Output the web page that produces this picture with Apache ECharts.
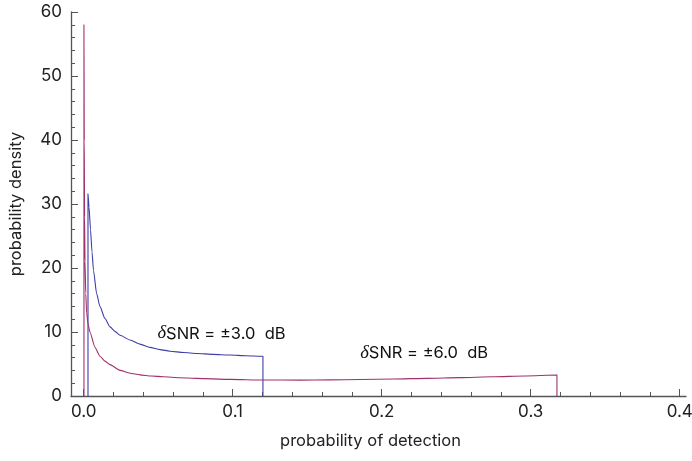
<!DOCTYPE html>
<html><head><meta charset="utf-8">
<script src="https://cdn.jsdelivr.net/npm/echarts@6/dist/echarts.min.js"></script>
<style>html,body{margin:0;padding:0;background:#fff}#c{width:692px;height:461px}</style>
</head><body><div id="c"></div>
<script>
// x tick values (probability of detection)
const xMajorTicks = [0, 0.1, 0.2, 0.3, 0.4];
const xMinorTicks = [0.02, 0.04, 0.06, 0.08, 0.12, 0.14, 0.16, 0.18, 0.22, 0.24, 0.26, 0.28, 0.32, 0.34, 0.36, 0.38];
const yTickInterval = 10;

// δSNR = ±3.0 dB curve: [probability of detection, probability density]
const snr3 = [
  [0.0029, 0], [0.0029, 31.6], [0.0036, 29.5], [0.0046, 26], [0.0056, 22.5], [0.0066, 19.6],
  [0.0087, 16], [0.0109, 14], [0.0143, 12.1], [0.0177, 10.8], [0.0210, 10.1], [0.0244, 9.5],
  [0.0311, 8.75], [0.0378, 8.1], [0.0445, 7.6], [0.0512, 7.25], [0.0579, 7.0], [0.0670, 6.8],
  [0.0760, 6.65], [0.0870, 6.5], [0.0982, 6.4], [0.1090, 6.3], [0.1203, 6.2], [0.1203, 0]
];

// δSNR = ±6.0 dB curve
const snr6 = [
  [0.0002, 0], [0.0002, 58], [0.0004, 40], [0.0006, 28], [0.0009, 21], [0.0014, 16],
  [0.0020, 13], [0.0029, 11.3], [0.0042, 10], [0.0076, 7.6], [0.0109, 6.2], [0.0143, 5.45],
  [0.0177, 4.9], [0.0244, 4.0], [0.0311, 3.55], [0.0378, 3.3], [0.0455, 3.12], [0.0532, 3.0],
  [0.0646, 2.86], [0.0760, 2.76], [0.0982, 2.6], [0.1203, 2.5], [0.1451, 2.48], [0.1650, 2.52],
  [0.1854, 2.58], [0.2080, 2.66], [0.2304, 2.76], [0.2525, 2.87], [0.2747, 3.0], [0.2960, 3.13],
  [0.3176, 3.28], [0.3176, 0]
];

// curve labels: [x, y, text]
const curveLabels = [
  [0.0925, 9.75, '{d|δ}SNR = ±3.0  dB'],
  [0.2285, 6.70, '{d|δ}SNR = ±6.0  dB']
];

const axisColor = '#555';
const textColor = '#222';
const font = 'Inter, "Liberation Sans", sans-serif';

const chart = echarts.init(document.getElementById('c'), null, {renderer: 'canvas'});

function labelSeries(idx) {
  const L = curveLabels[idx];
  return {
    data: [{coord: [L[0], L[1]], value: L[2]}],
    symbol: 'circle', symbolSize: 0,
    label: {
      show: true, position: 'inside', formatter: L[2],
      color: '#111', fontFamily: font, fontSize: 16.5,
      rich: { d: { fontFamily: '"Liberation Serif", serif', fontStyle: 'italic', fontSize: 18.5, color: '#111' } }
    },
    itemStyle: {color: 'transparent'}
  };
}

chart.setOption({
  animation: false,
  backgroundColor: '#fff',
  grid: { left: 71, right: 6, top: 12, bottom: 65, containLabel: false, outerBoundsMode: 'none' },
  xAxis: [
    {
      type: 'value', min: -0.0085, max: 0.4042, position: 'bottom',
      name: 'probability of detection', nameLocation: 'middle', nameGap: 37,
      nameTextStyle: { color: textColor, fontFamily: font, fontSize: 16.5, padding: [0, 16, 0, 0] },
      axisLine: { show: true, onZero: false, lineStyle: { color: axisColor, width: 1.3 } },
      axisTick: { show: true, inside: true, length: 7, customValues: xMajorTicks, lineStyle: { color: axisColor } },
      axisLabel: { show: true, customValues: xMajorTicks, margin: 7, color: textColor, fontFamily: font, fontSize: 17,
        formatter: v => v.toFixed(1) },
      splitLine: { show: false }
    },
    {
      type: 'value', min: -0.0085, max: 0.4042, position: 'bottom',
      axisLine: { show: false, onZero: false },
      axisTick: { show: true, inside: true, length: 4, customValues: xMinorTicks, lineStyle: { color: axisColor } },
      axisLabel: { show: false },
      splitLine: { show: false }
    }
  ],
  yAxis: {
    type: 'value', min: 0, max: 60, interval: yTickInterval,
    name: 'probability density', nameLocation: 'middle', nameGap: 46,
    nameTextStyle: { color: textColor, fontFamily: font, fontSize: 16.5 },
    axisLine: { show: true, onZero: false, lineStyle: { color: axisColor, width: 1.3 } },
    axisTick: { show: true, inside: true, length: 7, lineStyle: { color: axisColor } },
    minorTick: { show: true, splitNumber: 5, length: 4, lineStyle: { color: axisColor } },
    axisLabel: { margin: 9, color: textColor, fontFamily: font, fontSize: 17 },
    splitLine: { show: false }, minorSplitLine: { show: false }
  },
  series: [
    {
      type: 'line', name: '3dB', data: snr3, showSymbol: false, clip: false,
      smooth: 0.2, smoothMonotone: 'x',
      lineStyle: { color: '#3e3ea8', width: 1.1 }, itemStyle: { color: '#3e3ea8' },
      markPoint: labelSeries(0)
    },
    {
      type: 'line', name: '6dB', data: snr6, showSymbol: false, clip: false,
      smooth: 0.2, smoothMonotone: 'x',
      lineStyle: { color: '#a0306e', width: 1.1 }, itemStyle: { color: '#a0306e' },
      markPoint: labelSeries(1)
    }
  ]
});
</script>
</body></html>
